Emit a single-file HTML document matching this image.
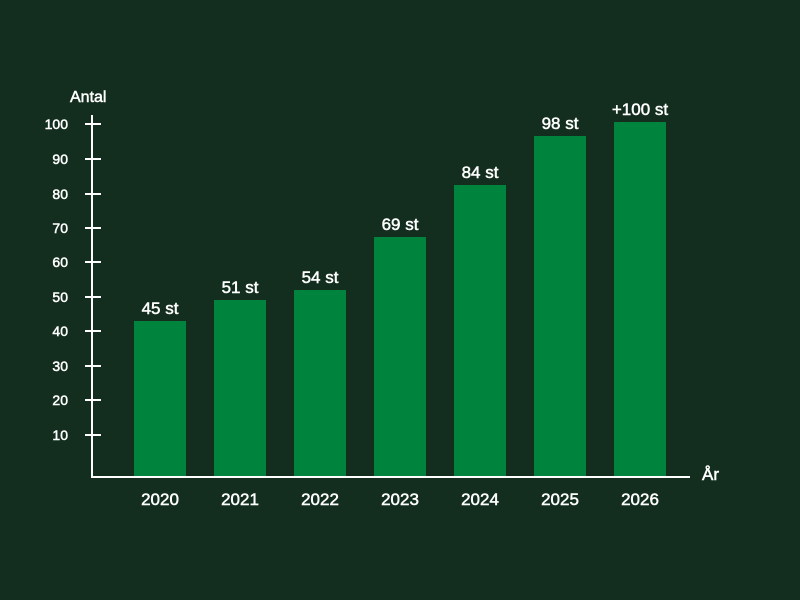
<!DOCTYPE html><html><head><style>body{margin:0;background:#132e1f;}svg{display:block}</style></head><body>
<svg width="800" height="600" xmlns="http://www.w3.org/2000/svg" font-family="Liberation Sans, sans-serif" fill="#fff">
<rect width="800" height="600" fill="#132e1f"/>
<g fill="#00843d">
<rect x="134" y="321" width="52" height="156"/>
<rect x="214" y="300" width="52" height="177"/>
<rect x="294" y="290" width="52" height="187"/>
<rect x="374" y="237" width="52" height="240"/>
<rect x="454" y="185" width="52" height="292"/>
<rect x="534" y="136" width="52" height="341"/>
<rect x="614" y="122" width="52" height="355"/>
</g>
<g stroke="#fff" stroke-width="2">
<line x1="92" y1="115" x2="92" y2="478"/>
<line x1="91" y1="477" x2="690" y2="477"/>
<line x1="85" y1="124" x2="101" y2="124"/><line x1="85" y1="159" x2="101" y2="159"/>
<line x1="85" y1="194" x2="101" y2="194"/><line x1="85" y1="228" x2="101" y2="228"/>
<line x1="85" y1="262" x2="101" y2="262"/><line x1="85" y1="297" x2="101" y2="297"/>
<line x1="85" y1="331" x2="101" y2="331"/><line x1="85" y1="366" x2="101" y2="366"/>
<line x1="85" y1="400" x2="101" y2="400"/><line x1="85" y1="435" x2="101" y2="435"/>
</g>
<g stroke="#fff" stroke-width="0.5">
<g font-size="14" text-anchor="end">
<text x="68" y="129">100</text><text x="68" y="164">90</text><text x="68" y="199">80</text><text x="68" y="233">70</text><text x="68" y="267">60</text><text x="68" y="302">50</text><text x="68" y="336">40</text><text x="68" y="371">30</text><text x="68" y="405">20</text><text x="68" y="440">10</text>
</g>
<text x="70" y="102" font-size="16">Antal</text>
<text x="702" y="480" font-size="17">År</text>
<g font-size="17" text-anchor="middle">
<text x="160" y="505">2020</text><text x="240" y="505">2021</text><text x="320" y="505">2022</text><text x="400" y="505">2023</text><text x="480" y="505">2024</text><text x="560" y="505">2025</text><text x="640" y="505">2026</text>
<text x="160" y="314">45 st</text><text x="240" y="293">51 st</text><text x="320" y="283">54 st</text><text x="400" y="230">69 st</text><text x="480" y="178">84 st</text><text x="560" y="129">98 st</text><text x="640" y="115">+100 st</text>
</g>
</g>
</svg></body></html>
